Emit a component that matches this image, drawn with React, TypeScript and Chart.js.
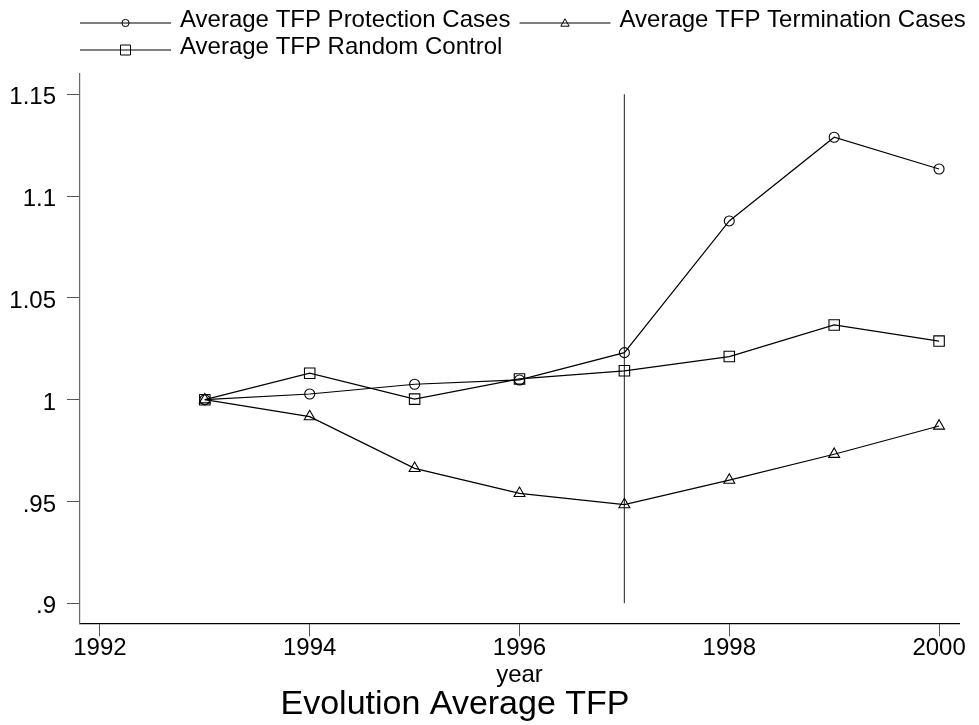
import React, { useEffect, useRef } from 'react';
import { Chart, registerables } from 'chart.js';

Chart.register(...registerables);

// ---- data ----
const years = [1993, 1994, 1995, 1996, 1997, 1998, 1999, 2000];
const protection = [1.0, 1.0028, 1.0076, 1.0097, 1.0231, 1.0878, 1.1289, 1.1133];
const termination = [1.0, 0.9917, 0.9663, 0.954, 0.9485, 0.9605, 0.9732, 0.9871];
const randomControl = [1.0, 1.013, 1.0003, 1.0102, 1.0142, 1.0212, 1.0367, 1.0288];
const xTicks = [1992, 1994, 1996, 1998, 2000];
const yTicks = [0.9, 0.95, 1, 1.05, 1.1, 1.15];
const yTickLabels = ['.9', '.95', '1', '1.05', '1.1', '1.15'];
const vlineX = 1997;
const vlineYs = [0.9, 1.15];
const seriesNames = [
  'Average TFP Protection Cases',
  'Average TFP Termination Cases',
  'Average TFP Random Control',
];
const titleText = 'Evolution Average TFP';
const xTitle = 'year';

const FAMILY = '"Liberation Sans", Arial, Helvetica, sans-serif';

function drawMarker(ctx: CanvasRenderingContext2D, style: string, x: number, y: number) {
  ctx.beginPath();
  if (style === 'circle') {
    ctx.arc(x, y, 3.6, 0, Math.PI * 2);
  } else if (style === 'rect') {
    ctx.rect(x - 5, y - 5, 10, 10);
  } else {
    ctx.moveTo(x, y - 4.2);
    ctx.lineTo(x + 4.2, y + 3.2);
    ctx.lineTo(x - 4.2, y + 3.2);
    ctx.closePath();
  }
  ctx.stroke();
}

const stataDecor = {
  id: 'stataDecor',
  afterDraw(chart: any) {
    const ctx: CanvasRenderingContext2D = chart.ctx;
    const area = chart.chartArea;
    const col1 = area.left;
    const col2 = (area.left + area.right) / 2;
    const items = [
      { name: seriesNames[0], style: 'circle', x: col1, y: 23 },
      { name: seriesNames[1], style: 'triangle', x: col2, y: 23 },
      { name: seriesNames[2], style: 'rect', x: col1, y: 50 },
    ];
    ctx.save();
    ctx.strokeStyle = '#000';
    ctx.fillStyle = '#000';
    ctx.lineWidth = 1.2;
    ctx.font = `24px ${FAMILY}`;
    ctx.textAlign = 'left';
    ctx.textBaseline = 'alphabetic';
    for (const it of items) {
      ctx.beginPath();
      ctx.moveTo(it.x, it.y);
      ctx.lineTo(it.x + 91, it.y);
      ctx.stroke();
      ctx.lineWidth = 1;
      drawMarker(ctx, it.style, it.x + 45.5, it.y);
      ctx.lineWidth = 1.2;
      ctx.fillText(it.name, it.x + 100, it.y + 4.3);
    }
    ctx.font = `34px ${FAMILY}`;
    ctx.textAlign = 'center';
    ctx.fillText(titleText, 455, 714);
    ctx.restore();
  },
};

const lineStyle = {
  borderColor: '#000',
  borderWidth: 1.2,
  backgroundColor: 'rgba(0,0,0,0)',
  pointBorderColor: '#000',
  pointBackgroundColor: 'rgba(0,0,0,0)',
  pointBorderWidth: 1.1,
  tension: 0,
};

export default function App() {
  const ref = useRef<HTMLCanvasElement | null>(null);

  useEffect(() => {
    if (!ref.current) return;
    const chart = new Chart(ref.current, {
      type: 'line',
      data: {
        datasets: [
          {
            label: seriesNames[0],
            data: years.map((x, i) => ({ x, y: protection[i] })),
            ...lineStyle,
            pointStyle: 'circle',
            pointRadius: 5,
          },
          {
            label: seriesNames[1],
            data: years.map((x, i) => ({ x, y: termination[i] })),
            ...lineStyle,
            pointStyle: 'triangle',
            pointRadius: 6.3,
          },
          {
            label: seriesNames[2],
            data: years.map((x, i) => ({ x, y: randomControl[i] })),
            ...lineStyle,
            pointStyle: 'rect',
            pointRadius: 7.4,
          },
          {
            label: 'vline',
            data: vlineYs.map((y) => ({ x: vlineX, y })),
            borderColor: '#444',
            borderWidth: 1.2,
            pointRadius: 0,
            tension: 0,
          },
        ],
      } as any,
      options: {
        animation: false,
        responsive: false,
        maintainAspectRatio: false,
        events: [],
        layout: { padding: { top: 74, right: 20, left: 0, bottom: 0 } },
        plugins: {
          legend: { display: false },
          title: { display: false },
          tooltip: { enabled: false },
        },
        scales: {
          x: {
            type: 'linear',
            min: 1991.81,
            max: 2000.19,
            afterBuildTicks: (s: any) => {
              s.ticks = xTicks.map((v) => ({ value: v }));
            },
            afterFit: (s: any) => {
              s.height = 101.7;
            },
            grid: {
              drawOnChartArea: false,
              drawTicks: true,
              tickLength: 13,
              tickColor: '#555',
              tickWidth: 1,
            },
            border: { display: true, color: '#000', width: 1.2 },
            ticks: {
              color: '#000',
              font: { family: FAMILY, size: 24, lineHeight: 1 },
              padding: 0,
              maxRotation: 0,
              autoSkip: false,
              callback: (v: any) => String(v),
            },
            title: {
              display: true,
              text: xTitle,
              color: '#000',
              font: { family: FAMILY, size: 24, lineHeight: 1.2 },
              padding: { top: 0, bottom: 35.6 },
            },
          },
          y: {
            type: 'linear',
            min: 0.89018,
            max: 1.15997,
            afterBuildTicks: (s: any) => {
              s.ticks = yTicks.map((v) => ({ value: v }));
            },
            afterFit: (s: any) => {
              s.width = 80;
            },
            grid: {
              drawOnChartArea: false,
              drawTicks: true,
              tickLength: 13,
              tickColor: '#555',
              tickWidth: 1,
            },
            border: { display: true, color: '#666', width: 1.2 },
            ticks: {
              color: '#000',
              font: { family: FAMILY, size: 24 },
              padding: 11,
              labelOffset: 3.5,
              autoSkip: false,
              callback: (_v: any, i: number) => yTickLabels[i],
            },
          },
        },
      } as any,
      plugins: [stataDecor],
    });
    return () => chart.destroy();
  }, []);

  return (
    <div style={{ position: 'absolute', left: 0, top: 0, width: 979, height: 725, background: '#fff' }}>
      <canvas ref={ref} width={979} height={725} style={{ display: 'block' }} />
    </div>
  );
}
